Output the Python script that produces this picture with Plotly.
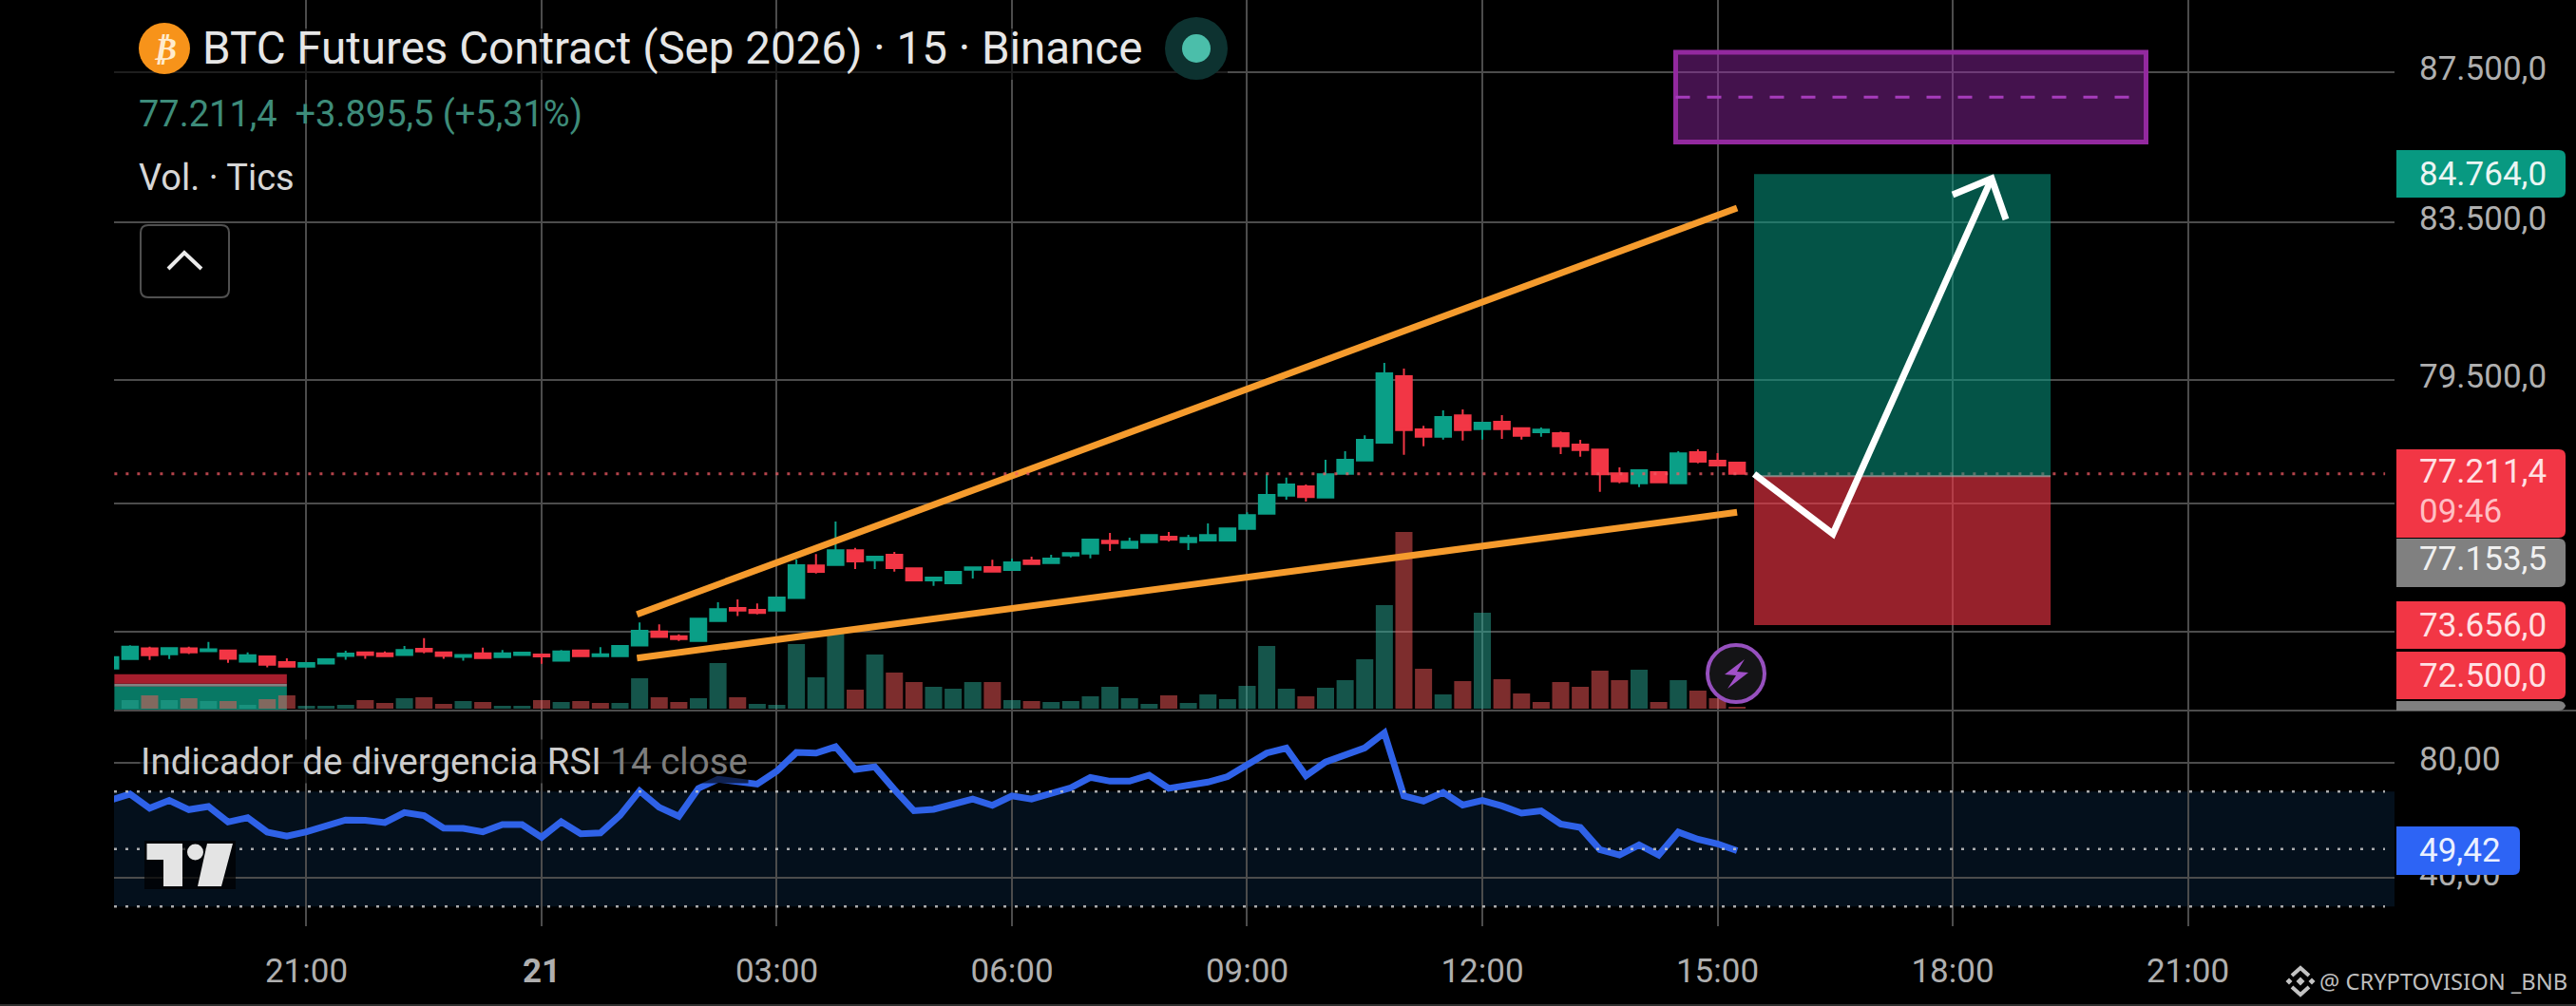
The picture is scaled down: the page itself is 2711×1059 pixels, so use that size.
import math
import pandas as pd
import plotly.graph_objects as go

W = 2711
H = 1059
LEFT = 120
RIGHT = 2520
BOTTOM = 975
PANE = 748

# candles, one per 15 min, first one is 20 May 18:30
opens = [72667, 72882, 73126, 72990, 73126, 73061, 73076, 72824, 72940, 72811, 72710, 72781, 72953, 73033, 73012, 72975,
         73113, 73033, 72932, 73012, 72925, 72975, 72984, 72846, 73076, 72947, 72947, 73191, 73510, 73401, 73293, 73749,
         74054, 74010, 73989, 74280, 75038, 75051, 75393, 75162, 75288, 74972, 74691, 74625, 74941, 75000, 74934, 75155,
         75096, 75273, 75317, 75616, 75451, 75586, 75712, 75586, 75623, 75623, 75898, 76258, 76688, 76910, 76643, 77214,
         77533, 77963, 79594, 78287, 78109, 78628, 78294, 78472, 78317, 78218, 78194, 77917, 77795, 77223, 76985, 77252,
         76985, 77733, 77526, 77480]
highs = [72925, 73199, 73162, 73141, 73162, 73271, 73091, 73033, 72940, 72897, 72790, 72897, 73070, 73033, 73055, 73178,
         73358, 73033, 72975, 73141, 73091, 73027, 72984, 73091, 73076, 73156, 73178, 73720, 73677, 73444, 73808, 74185,
         74251, 74157, 74295, 75178, 75304, 76071, 75451, 75244, 75355, 74972, 74757, 74890, 74994, 75171, 75199, 75244,
         75288, 75326, 75661, 75802, 75691, 75750, 75824, 75757, 76026, 75907, 76290, 77200, 77122, 76956, 77549, 77756,
         78141, 79925, 79783, 78373, 78752, 78775, 78472, 78635, 78333, 78333, 78234, 78033, 77795, 77366, 77298, 77252,
         77756, 77802, 77710, 77480]
lows = [72667, 72867, 72861, 72882, 72997, 73061, 72796, 72824, 72695, 72710, 72710, 72760, 72867, 72889, 72947, 72975,
        73012, 72889, 72846, 72904, 72925, 72975, 72775, 72846, 72947, 72947, 72947, 73191, 73386, 73293, 73293, 73749,
        73864, 73902, 73989, 74280, 74852, 75051, 74956, 74956, 74896, 74675, 74565, 74609, 74735, 74896, 74934, 75074,
        75096, 75229, 75206, 75377, 75428, 75586, 75600, 75399, 75623, 75600, 75898, 76258, 76591, 76546, 76643, 77214,
        77533, 77947, 77670, 77878, 78040, 78017, 78040, 78056, 78040, 78109, 77686, 77624, 76780, 76985, 76894, 77008,
        76985, 77464, 77412, 77211.4]
closes = [72925, 73162, 72968, 73134, 73033, 73104, 72889, 72968, 72753, 72710, 72790, 72876, 73005, 72975, 72947, 73091,
          73055, 72953, 72975, 72904, 73012, 73027, 72940, 73055, 72947, 72990, 73178, 73525, 73386, 73336, 73808, 74026,
          73989, 73938, 74295, 75045, 74890, 75393, 75133, 75244, 74978, 74691, 74757, 74890, 74994, 74896, 75111, 75074,
          75200, 75326, 75645, 75563, 75594, 75750, 75645, 75683, 75750, 75907, 76222, 76704, 76956, 76652, 77200, 77549,
          78033, 79665, 78271, 78109, 78588, 78271, 78449, 78294, 78132, 78280, 77878, 77786, 77200, 77031, 77298, 77008,
          77702, 77503, 77412, 77211.4]
volumes = [0, 9, 14, 9, 11, 8, 8, 4, 10, 14, 3, 3, 4, 9, 6, 11, 12, 5, 8, 7, 3, 3, 9, 7, 8, 6, 6, 32, 12, 7, 11, 48, 12,
           5, 4, 68, 33, 81, 20, 57, 38, 28, 23, 21, 28, 28, 9, 8, 7, 8, 13, 23, 11, 5, 14, 6, 15, 10, 24, 66, 21, 13,
           22, 30, 52, 109, 186, 42, 15, 29, 101, 31, 16, 7, 28, 23, 40, 30, 41, 7, 30, 19, 11, 2]
volume_dir = list("uududududduuuddudduduu"
                  "dudduudduud"
                  "uuuuududduuududuuuuuuduuuuuuduuuu"
                  "ddududddddddududdd")
rsi = [67.0, 69.1, 64.2, 66.9, 63.7, 64.8, 59.4, 60.9, 55.9, 54.5, 56.0, 57.8, 60.1, 60.0, 59.2, 62.7, 61.6, 57.3, 57.2,
       56.0, 58.5, 58.5, 54.1, 59.5, 55.3, 55.6, 61.7, 70.2, 64.5, 61.4, 71.1, 74.3, 73.5, 72.6, 77.1, 83.6, 83.4, 85.6,
       77.7, 78.6, 70.7, 63.3, 63.8, 65.8, 67.4, 65.2, 68.5, 67.4, 69.1, 71.3, 74.9, 73.6, 73.6, 75.7, 71.1, 72.2, 73.3,
       75.2, 79.3, 83.4, 85.1, 75.5, 80.3, 82.6, 85.2, 90.4, 68.5, 66.7, 69.7, 65.3, 66.9, 65.0, 62.5, 63.3, 58.7, 57.5,
       49.8, 47.9, 51.4, 47.9, 55.9, 53.4, 51.8, 49.42]

time_ticks = ["2026-05-20 21:00", "2026-05-21 00:00", "2026-05-21 03:00", "2026-05-21 06:00", "2026-05-21 09:00",
              "2026-05-21 12:00", "2026-05-21 15:00", "2026-05-21 18:00", "2026-05-21 21:00"]
time_labels = ["21:00", "<b>21</b>", "03:00", "06:00", "09:00", "12:00", "15:00", "18:00", "21:00"]
price_ticks = [87500, 83500, 79500, 76500, 73500]
price_labels = ["87.500,0", "83.500,0", "79.500,0", "", ""]
rsi_ticks = [80, 40]
rsi_labels = ["80,00", "40,00"]

# drawings on the chart
upper_x = ["2026-05-21 01:13", "2026-05-21 15:15"]
upper_y = [73905, 83874]
lower_x = ["2026-05-21 01:13", "2026-05-21 15:15"]
lower_y = [72905, 76290]
last_x = ["2026-05-20 18:33", "2026-05-21 23:31"]
last_price = 77211.4
entry = 77153.5
target = 84764
stop = 73656
box_x = ["2026-05-21 15:28", "2026-05-21 19:15"]
zone_x = ["2026-05-21 14:28", "2026-05-21 20:28"]
zone_y = [85616, 86820, 88044]
band_x = ["2026-05-20 18:33", "2026-05-20 20:45"]
band_y = [71745, 72260, 72325, 72540]

x_range = ["2026-05-20 18:32:44", "2026-05-21 23:38:11"]
price_range = [71723, 89487]

GRID = "rgb(76,76,76)"
UP = "#0a9f87"
DOWN = "#f23645"
TICK = "rgb(175,175,175)"
FONT = "Roboto"

times = pd.date_range("2026-05-20 18:30", periods=len(opens), freq="15min")


def px(x):
    return (x - LEFT) / (RIGHT - LEFT)


def py(y):
    return (BOTTOM - y) / BOTTOM


def path(points, close=True):
    s = "M " + " L ".join("%.5f %.5f" % (px(a), py(b)) for a, b in points)
    return s + " Z" if close else s


def rounded(x0, y0, x1, y1, r, left=False):
    # badge with round corners on the right side
    rl = r if left else 0
    s = "M %.5f %.5f" % (px(x0 + rl), py(y0))
    s += " L %.5f %.5f" % (px(x1 - r), py(y0))
    s += " Q %.5f %.5f %.5f %.5f" % (px(x1), py(y0), px(x1), py(y0 + r))
    s += " L %.5f %.5f" % (px(x1), py(y1 - r))
    s += " Q %.5f %.5f %.5f %.5f" % (px(x1), py(y1), px(x1 - r), py(y1))
    s += " L %.5f %.5f" % (px(x0 + rl), py(y1))
    if left:
        s += " Q %.5f %.5f %.5f %.5f" % (px(x0), py(y1), px(x0), py(y1 - r))
        s += " L %.5f %.5f" % (px(x0), py(y0 + r))
        s += " Q %.5f %.5f %.5f %.5f" % (px(x0), py(y0), px(x0 + r), py(y0))
    else:
        s += " L %.5f %.5f" % (px(x0), py(y0))
    return s + " Z"


def note(x, y, text, size, color, anchor="left", bg=None):
    return dict(xref="paper", yref="paper", x=px(x), y=py(y), text=text, showarrow=False, xanchor=anchor,
                yanchor="middle", font=dict(family=FONT, size=size, color=color), bgcolor=bg, borderpad=0)


def ui(kind, **kw):
    return dict(type=kind, xref="paper", yref="paper", **kw)


def circle(cx, cy, r, fill, line=None, width=0):
    return ui("circle", x0=px(cx - r), x1=px(cx + r), y0=py(cy - r), y1=py(cy + r), fillcolor=fill,
              line=dict(color=line, width=width))


fig = go.Figure()

vol_colors = ["rgba(42,170,150,0.5)" if d == "u" else "rgba(250,90,90,0.5)" for d in volume_dir]
fig.add_trace(go.Bar(x=times, y=volumes, marker=dict(color=vol_colors, line_width=0), xaxis="x", yaxis="y"))

fig.add_trace(go.Candlestick(x=times, open=opens, high=highs, low=lows, close=closes, xaxis="x", yaxis="y3",
                             whiskerwidth=0,
                             increasing=dict(line=dict(color=UP, width=2), fillcolor=UP),
                             decreasing=dict(line=dict(color=DOWN, width=2), fillcolor=DOWN)))

fig.add_trace(go.Scatter(x=upper_x, y=upper_y, mode="lines", xaxis="x", yaxis="y3",
                         line=dict(color="#f59b2d", width=7)))
fig.add_trace(go.Scatter(x=lower_x, y=lower_y, mode="lines", xaxis="x", yaxis="y3",
                         line=dict(color="#f59b2d", width=7)))
fig.add_trace(go.Scatter(x=last_x, y=[last_price, last_price], mode="lines", xaxis="x", yaxis="y3",
                         line=dict(color="rgba(242,90,100,0.75)", width=3, dash="3px,9px")))

fig.add_trace(go.Scatter(x=times, y=rsi, mode="lines", xaxis="x2", yaxis="y2",
                         line=dict(color="#2f62e8", width=7)))

shapes = []

# strip of zones at the lower left
band_colors = ["rgb(8,120,100)", "rgb(130,130,130)", "rgb(165,30,45)"]
for i in range(3):
    shapes.append(dict(type="rect", xref="x", yref="y3", x0=band_x[0], x1=band_x[1], y0=band_y[i], y1=band_y[i + 1],
                       fillcolor=band_colors[i], line_width=0, layer="below"))

# long position box
shapes.append(dict(type="rect", xref="x", yref="y3", x0=box_x[0], x1=box_x[1], y0=entry, y1=target,
                   fillcolor="rgba(8,153,129,0.55)", line_width=0))
shapes.append(dict(type="rect", xref="x", yref="y3", x0=box_x[0], x1=box_x[1], y0=stop, y1=entry,
                   fillcolor="rgba(242,54,69,0.62)", line_width=0))
shapes.append(dict(type="line", xref="x", yref="y3", x0=box_x[0], x1=box_x[1], y0=entry, y1=entry,
                   line=dict(color="rgba(170,170,170,0.7)", width=2)))

# purple zone
shapes.append(dict(type="rect", xref="x", yref="y3", x0=zone_x[0], x1=zone_x[1], y0=zone_y[0], y1=zone_y[2],
                   fillcolor="rgba(150,40,170,0.45)", line=dict(color="#93299f", width=5)))
shapes.append(dict(type="line", xref="x", yref="y3", x0=zone_x[0], x1=zone_x[1], y0=zone_y[1], y1=zone_y[1],
                   line=dict(color="#a63cbc", width=3, dash="15px,18px")))

# white arrow goes over the boxes
shapes.append(dict(type="path", xref="paper", yref="paper", line=dict(color="white", width=7),
                   path=path([(1846, 499), (1929, 562), (2096, 188)], close=False)))
shapes.append(dict(type="path", xref="paper", yref="paper", line=dict(color="white", width=7),
                   path=path([(2055, 205), (2096, 188), (2111, 231)], close=False)))

# RSI pane
shapes.append(dict(type="rect", xref="paper", yref="y2", x0=0, x1=1, y0=30, y1=70,
                   fillcolor="rgba(10,40,70,0.4)", line_width=0, layer="below"))
for level in [70, 50, 30]:
    shapes.append(dict(type="line", xref="paper", yref="y2", x0=0, x1=px(2510), y0=level, y1=level,
                       line=dict(color="rgba(200,200,200,0.85)", width=2.5, dash="3px,9px")))

# pane divider and the header mask
shapes.append(ui("line", x0=0, x1=px(W), y0=py(PANE), y1=py(PANE), line=dict(color=GRID, width=2)))
shapes.append(ui("line", x0=px(0), x1=px(W), y0=py(1058), y1=py(1058), line=dict(color="rgb(45,45,45)", width=2)))
shapes.append(ui("rect", x0=0, x1=px(1292), y0=py(30), y1=py(84), fillcolor="rgba(0,0,0,0.6)", line_width=0))

# header icons
shapes.append(circle(173, 51, 27, "#f7931a"))
shapes.append(circle(1259, 51, 33, "rgb(13,50,48)"))
shapes.append(circle(1259, 51, 15, "rgb(75,190,170)"))

# collapse button
shapes.append(dict(type="path", xref="paper", yref="paper", path=rounded(148, 237, 241, 313, 8, left=True),
                   line=dict(color="rgb(80,80,80)", width=2), fillcolor="rgba(0,0,0,0)"))
shapes.append(dict(type="path", xref="paper", yref="paper", path=path([(177, 283), (194, 266), (212, 283)], close=False),
                   line=dict(color="rgb(235,235,235)", width=4)))

# lightning badge
shapes.append(circle(1827, 709, 30, "rgb(20,20,22)", "rgb(150,80,190)", 4))
shapes.append(dict(type="path", xref="paper", yref="paper", line_width=0, fillcolor="rgb(160,80,200)",
                   path=path([(1836, 694), (1815, 710), (1827, 711), (1818, 725), (1840, 708), (1828, 707)])))

# price badges
badges = [(2522, 158, 2700, 208, "#089981"), (2522, 473, 2700, 566, "#f23645"), (2522, 567, 2700, 618, "#808080"),
          (2522, 633, 2700, 683, "#f23645"), (2522, 686, 2700, 736, "#f23645"), (2522, 738, 2700, 748, "#808080"),
          (2522, 870, 2652, 921, "#2d64f5")]
for x0, y0, x1, y1, c in badges:
    shapes.append(dict(type="path", xref="paper", yref="paper", path=rounded(x0, y0, x1, y1, 7), fillcolor=c,
                       line_width=0))

# TradingView logo
LOGO = "rgb(228,228,228)"
shapes.append(ui("rect", x0=px(152), x1=px(248), y0=py(885), y1=py(936), fillcolor="rgba(0,0,0,0.7)", line_width=0))
shapes.append(dict(type="path", xref="paper", yref="paper", fillcolor=LOGO, line_width=0,
                   path=path([(154.5, 888), (192, 888), (192, 933), (172, 933), (172, 905), (154.5, 905)])))
shapes.append(circle(205.5, 897, 8.5, LOGO))
shapes.append(dict(type="path", xref="paper", yref="paper", fillcolor=LOGO, line_width=0,
                   path=path([(218, 888), (245, 888), (233, 933), (208, 933)])))

# exchange mark beside the credit
MARK = "rgb(195,195,195)"
shapes.append(dict(type="path", xref="paper", yref="paper", line=dict(color=MARK, width=4),
                   path=path([(2412, 1027), (2421, 1019), (2430, 1027)], close=False)))
shapes.append(dict(type="path", xref="paper", yref="paper", line=dict(color=MARK, width=4),
                   path=path([(2412, 1039), (2421, 1047), (2430, 1039)], close=False)))
for cx, r in [(2409, 3.5), (2421, 4.5), (2433, 3.5)]:
    shapes.append(dict(type="path", xref="paper", yref="paper", fillcolor=MARK, line_width=0,
                       path=path([(cx - r, 1033), (cx, 1033 - r), (cx + r, 1033), (cx, 1033 + r)])))

annotations = [
    note(173, 51, "<b><i>₿</i></b>", 34, "rgb(255,235,205)", anchor="center"),
    note(212, 51, "BTC Futures Contract (Sep 2026) · 15 · Binance", 47.5, "rgb(230,230,230)"),
    note(145, 120, "77.211,4  +3.895,5 (+5,31%)", 38, "rgb(62,140,122)"),
    note(145, 187, "Vol. · Tics", 38, "rgb(215,215,215)"),
    note(147, 801, "Indicador de divergencia RSI <span style='color:rgb(125,125,125)'>14 close</span>", 38.5,
         "rgb(205,205,205)", bg="rgba(0,0,0,0.65)"),
    note(2545, 183, "84.764,0", 35, "rgb(235,245,243)"),
    note(2545, 496, "77.211,4", 35, "rgb(255,225,228)"),
    note(2545, 538, "09:46", 35, "rgb(255,190,195)"),
    note(2545, 588, "77.153,5", 35, "rgb(240,240,240)"),
    note(2545, 658, "73.656,0", 35, "rgb(255,225,228)"),
    note(2545, 711, "72.500,0", 35, "rgb(255,225,228)"),
    note(2545, 895, "49,42", 35, "rgb(235,240,255)"),
    note(2440, 1033, "@ CRYPTOVISION _BNB", 23.7, "rgb(190,190,190)"),
]
annotations[0]["font"]["family"] = "DejaVu Sans"
annotations[-1]["font"]["family"] = "Noto Sans"

split = (BOTTOM - PANE) / BOTTOM

fig.update_layout(
    width=W,
    height=H,
    margin=dict(l=LEFT, r=W - RIGHT, t=0, b=H - BOTTOM, pad=0),
    paper_bgcolor="black",
    plot_bgcolor="black",
    showlegend=False,
    bargap=0.127,
    boxgap=0.2,
    boxgroupgap=0,
    shapes=shapes,
    annotations=annotations,
    font=dict(family=FONT, color=TICK),
    xaxis=dict(domain=[0, 1], anchor="y", matches="x2", range=x_range, type="date", rangeslider=dict(visible=False),
               tickmode="array", tickvals=time_ticks, showticklabels=False, showgrid=True, gridcolor=GRID, gridwidth=2,
               zeroline=False, showline=False, ticks=""),
    xaxis2=dict(domain=[0, 1], anchor="y2", range=x_range, type="date", tickmode="array", tickvals=time_ticks,
                ticktext=time_labels, showgrid=True, gridcolor=GRID, gridwidth=2, zeroline=False, showline=False,
                ticks="", ticklabelstandoff=23, tickfont=dict(family=FONT, size=35, color=TICK)),
    # volume sits on the base axis so that the candles draw above it
    yaxis=dict(domain=[split, 1], anchor="x", range=[-2, 746], showgrid=False, showticklabels=False, zeroline=False,
               showline=False),
    yaxis3=dict(domain=[split, 1], anchor="x", overlaying="y", side="right", type="log",
                range=[math.log10(price_range[0]), math.log10(price_range[1])], tickmode="array",
                tickvals=price_ticks, ticktext=price_labels, showgrid=True, gridcolor=GRID, gridwidth=2,
                zeroline=False, showline=False, ticks="", ticklabelstandoff=25, ticklabelshift=-4,
                tickfont=dict(family=FONT, size=35, color=TICK)),
    yaxis2=dict(domain=[0, split], anchor="x2", side="right", range=[23.14, 98.18], tickmode="array",
                tickvals=rsi_ticks, ticktext=rsi_labels, showgrid=True, gridcolor=GRID, gridwidth=2, zeroline=False,
                showline=False, ticks="", ticklabelstandoff=25, ticklabelshift=-4,
                tickfont=dict(family=FONT, size=35, color=TICK)),
)

# the page body has a default margin, the chart must sit flush with the window
fig.write_html("out.html", config={"displayModeBar": False},
               post_script="document.body.style.margin='0';document.body.style.background='black';"
                           "document.documentElement.style.overflow='hidden';")
